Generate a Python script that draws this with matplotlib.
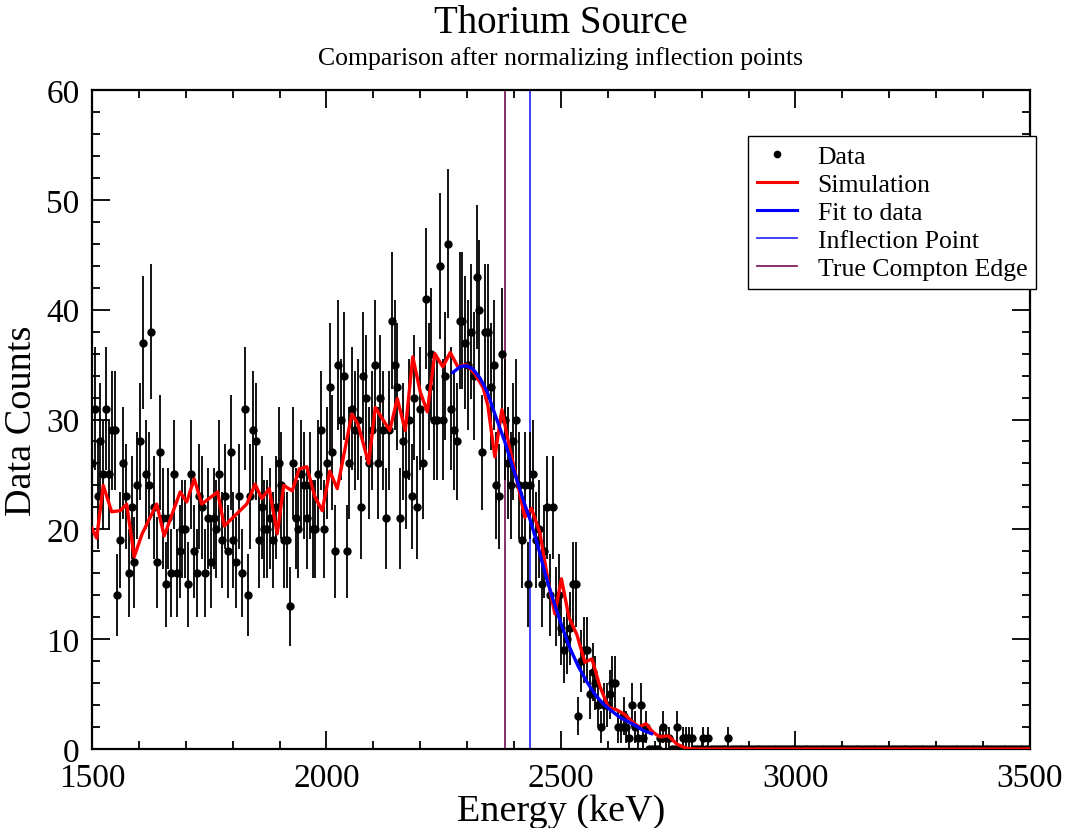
import matplotlib
matplotlib.use("Agg")
import matplotlib.pyplot as plt
from matplotlib.ticker import MultipleLocator
from matplotlib.lines import Line2D
import numpy as np

plt.rcParams['font.family'] = ['Liberation Serif', 'DejaVu Serif']

# measured spectrum: counts per bin, bins start at 1500 keV
bin_start = 1500.0
bin_width = 6.03
data_counts = [
    26, 31, 23, 28, 25, 31, 25, 29, 29, 14, 19, 26, 23, 16, 22, 17, 24, 28, 37, 25,
    24, 38, 22, 17, 27, 21, 15, 21, 16, 25, 16, 18, 20, 20, 15, 25, 18, 16, 23, 22,
    16, 21, 17, 21, 20, 25, 19, 23, 18, 27, 19, 17, 23, 16, 31, 14, 23, 29, 28, 19,
    22, 20, 20, 21, 19, 22, 26, 24, 19, 19, 13, 26, 21, 20, 25, 24, 21, 24, 20, 20,
    25, 29, 20, 26, 33, 27, 18,
    35, 30, 34, 18, 26, 31, 29, 30, 22, 34, 32, 26, 29, 35, 26, 32, 29, 21, 29, 39,
    35, 33, 21, 28, 25, 30, 23, 32, 22, 31, 26,
    41, 33, 36, 30, 30, 44, 30, 34, 46, 31, 29, 28, 39, 39, 37, 35, 38, 34, 43, 40,
    27, 38, 38, 33, 35, 24, 23, 36, 30, 26, 24, 28, 30, 24, 19, 24, 15, 24, 25,
    19, 20, 15, 18, 22, 14, 22, 13, 14, 11, 9, 10, 11, 15, 15, 3, 8, 9, 9, 5,
    7, 6, 4, 2, 4, 4, 5, 6, 6, 2, 2, 3, 2,
    1, 4, 2, 1, 4, 1, 2, 0, 0, 0, 0, 1, 2, 1, 1, 0, 0, 2, 0, 1,
    1, 1, 1, 0, 0, 0, 1, 0, 1, 0, 0, 0, 0, 0, 0, 1,
] + [0] * 106

# simulation (normalized)
sim_energy = [1500, 1510, 1524, 1542, 1560, 1574, 1590, 1607, 1638, 1654,
              1688, 1702, 1718, 1734, 1768, 1782, 1830, 1848, 1862, 1878,
              1895, 1909, 1927, 1942, 1958, 1975, 1991, 2007, 2023, 2054,
              2067, 2090, 2104, 2135, 2151, 2168, 2184, 2200, 2215, 2231,
              2248, 2264, 2280, 2298, 2316, 2334, 2344, 2359, 2374, 2390,
              2406, 2423, 2437, 2455, 2473, 2487, 2501, 2517, 2534, 2551,
              2566, 2583, 2601, 2617, 2634, 2652, 2666, 2681, 2697, 2711,
              2729, 2747, 2765, 2780, 3500]
sim_counts = [20.1, 19.2, 24.0, 21.6, 21.7, 22.3, 17.5, 19.6, 22.3, 19.4,
              23.4, 22.5, 24.6, 22.3, 23.4, 20.3, 22.3, 24.1, 22.8, 23.7,
              19.6, 24.0, 23.5, 25.5, 25.7, 23.0, 21.7, 25.3, 23.7, 30.5,
              29.6, 26.0, 31.1, 29.0, 31.9, 29.0, 35.7, 32.5, 30.7, 36.0,
              34.8, 36.1, 34.8, 35.0, 34.2, 32.9, 31.3, 26.6, 30.9, 27.5,
              24.5, 21.1, 21.9, 19.7, 15.2, 12.3, 15.5, 12.0, 10.4, 7.9,
              8.2, 5.7, 3.8, 3.6, 3.2, 2.5, 2.0, 2.3, 1.5, 1.1,
              1.2, 0.45, 0.1, 0.0, 0.0]

# fit to the edge
fit_energy = [2270, 2285, 2298, 2312, 2327, 2342, 2359, 2380, 2400, 2420,
              2434, 2450, 2466, 2483, 2501, 2518, 2536, 2554, 2572, 2590,
              2607, 2625, 2643, 2660, 2675, 2693]
fit_counts = [34.3, 34.8, 34.9, 34.6, 33.8, 32.6, 30.5, 28.0, 25.3, 22.6,
              20.9, 18.6, 16.0, 13.6, 11.3, 9.3, 7.6, 6.2, 5.0, 4.1,
              3.5, 2.9, 2.5, 2.1, 1.7, 1.4]

inflection_point = 2434
compton_edge = 2381.7

data_energy = bin_start + bin_width * np.arange(len(data_counts))
data_counts = np.array(data_counts, dtype=float)
data_err = np.sqrt(data_counts)

fig = plt.figure(figsize=(10.72, 8.29), dpi=100)
ax = fig.add_axes([0.0858, 0.0953, 0.8750, 0.7949])

c_infl = '#3030ff'
c_edge = '#7f1f5f'

ax.axvline(compton_edge, color=c_edge, lw=1.3, zorder=1)
ax.axvline(inflection_point, color=c_infl, lw=1.3, zorder=1)

ax.errorbar(data_energy, data_counts, yerr=data_err, fmt='o', color='black',
            ms=5, elinewidth=1.3, capsize=0, zorder=2)
ax.plot(sim_energy, sim_counts, color='red', lw=2.4, zorder=3)
ax.plot(fit_energy, fit_counts, color='blue', lw=2.4, zorder=4)

ax.set_xlim(1500, 3500)
ax.set_ylim(0, 60)
ax.xaxis.set_major_locator(MultipleLocator(500))
ax.xaxis.set_minor_locator(MultipleLocator(100))
ax.yaxis.set_major_locator(MultipleLocator(10))
ax.yaxis.set_minor_locator(MultipleLocator(2))
ax.tick_params(which='both', direction='in', top=True, right=True, width=1.3)
ax.tick_params(which='major', length=13, labelsize=24)
ax.tick_params(axis='x', which='major', pad=10)
ax.tick_params(axis='y', which='major', pad=9)
ax.tick_params(which='minor', length=6)
for sp in ax.spines.values():
    sp.set_linewidth(1.6)

ax.set_xlabel('Energy (keV)', fontsize=27.5, labelpad=0)
ax.set_ylabel('Data Counts', fontsize=27.5, labelpad=5)

fig.text(0.523, 0.972, 'Thorium Source', ha='center', va='center', fontsize=28)
fig.text(0.523, 0.930, 'Comparison after normalizing inflection points',
         ha='center', va='center', fontsize=18.5)

handles = [
    Line2D([], [], ls='none', marker='o', color='black', ms=4.5),
    Line2D([], [], color='red', lw=2.2),
    Line2D([], [], color='blue', lw=2.2),
    Line2D([], [], color=c_infl, lw=1.3),
    Line2D([], [], color=c_edge, lw=1.3),
]
labels = ['Data', 'Simulation', 'Fit to data', 'Inflection Point', 'True Compton Edge']
leg = fig.legend(handles, labels, loc='upper left', bbox_to_anchor=(0.698, 0.835),
                 fontsize=18.5, frameon=True, fancybox=False, shadow=False,
                 borderaxespad=0, handlelength=1.55, handletextpad=0.8,
                 labelspacing=0.2, borderpad=0.35)
leg.get_frame().set_edgecolor('black')
leg.get_frame().set_linewidth(1.0)
leg.get_frame().set_alpha(1)

fig.savefig('out.png', dpi=100)
